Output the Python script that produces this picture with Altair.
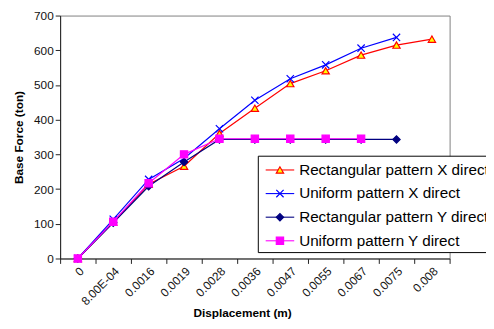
import altair as alt
import pandas as pd

cats = ["0", "8.00E-04", "0.0016", "0.0019", "0.0028", "0.0036", "0.0047",
        "0.0055", "0.0067", "0.0075", "0.008"]
series_names = ["Rectangular pattern X direct", "Uniform pattern X direct",
                "Rectangular pattern Y direct", "Uniform pattern Y direct"]
rect_x = [0, 105, 214, 266, 360, 433, 504, 541, 586, 615, 632]
unif_x = [0, 113, 228, 288, 374, 456, 518, 558, 606, 637]
rect_y = [0, 103, 208, 278, 343, 343, 343, 343, 343, 343]
unif_y = [0, 106, 217, 300, 345, 345, 345, 345, 345]

line_colors = ["#FF0000", "#0000FF", "#000080", "#FF00FF"]
fill_colors = ["#FFFF00", "transparent", "#000080", "#FF00FF"]
shapes = ["triangle-up", "M-1,-1L1,1M-1,1L1,-1", "diamond", "square"]

rows = []
for name, vals in zip(series_names, [rect_x, unif_x, rect_y, unif_y]):
    for c, v in zip(cats, vals):
        rows.append({"disp": c, "force": v, "series": name})
df = pd.DataFrame(rows)

leg = pd.DataFrame({"series": series_names, "i": list(range(4))})

stroke_scale = alt.Scale(domain=series_names, range=line_colors)
fill_scale = alt.Scale(domain=series_names, range=fill_colors)
shape_scale = alt.Scale(domain=series_names, range=shapes)

x_enc = alt.X("disp:N", sort=cats,
              scale=alt.Scale(type="band", domain=cats, paddingInner=0, paddingOuter=0),
              axis=alt.Axis(title="Displacement (m)", tickBand="extent", labelAngle=-45,
                            labelAlign="right", labelBaseline="top", titleX=185,
                            titleY=59, titleBaseline="alphabetic"))
y_enc = alt.Y("force:Q", scale=alt.Scale(domain=[0, 700], nice=False),
              axis=alt.Axis(title="Base Force (ton)", values=list(range(0, 701, 100)),
                            titlePadding=8))

base = alt.Chart(df)
lines = base.mark_line(strokeWidth=1.2).encode(
    x=x_enc, y=y_enc,
    color=alt.Color("series:N", scale=stroke_scale, legend=None),
    detail="series:N",
)
points = base.mark_point(size=55, strokeWidth=1.2, opacity=1).encode(
    x=x_enc, y=y_enc,
    stroke=alt.Stroke("series:N", scale=stroke_scale, legend=None),
    fill=alt.Fill("series:N", scale=fill_scale, legend=None),
    shape=alt.Shape("series:N", scale=shape_scale, legend=None),
)

lb = alt.Chart(leg).transform_calculate(ly="157 + 24 * datum.i")
box = alt.Chart(leg).transform_filter("datum.i == 0").mark_rect(
    fill="white", stroke="black", strokeWidth=1).encode(
    x=alt.value(201.5), x2=alt.value(560), y=alt.value(143), y2=alt.value(241))
leg_rule = lb.mark_rule(strokeWidth=1.1).encode(
    x=alt.value(209), x2=alt.value(238), y=alt.Y("ly:Q", scale=None),
    color=alt.Color("series:N", scale=stroke_scale, legend=None))
leg_pt = lb.mark_point(size=55, strokeWidth=1.2, opacity=1).encode(
    x=alt.value(223.5), y=alt.Y("ly:Q", scale=None),
    stroke=alt.Stroke("series:N", scale=stroke_scale, legend=None),
    fill=alt.Fill("series:N", scale=fill_scale, legend=None),
    shape=alt.Shape("series:N", scale=shape_scale, legend=None))
leg_txt = lb.mark_text(align="left", baseline="middle", fontSize=15.5,
                       font="Liberation Sans", color="#000").encode(
    x=alt.value(243), y=alt.Y("ly:Q", scale=None), text="series:N")

chart = alt.layer(lines, points, box, leg_rule, leg_pt, leg_txt).properties(
    width=396, height=247,
    autosize=alt.AutoSizeParams(type="none"),
    padding={"left": 53, "top": 5, "right": 37, "bottom": 69},
    background="white",
).configure_view(stroke="#808080", strokeWidth=1).configure_axis(
    grid=False, labelFont="Liberation Sans", labelFontSize=12, labelColor="#111",
    titleFont="Liberation Sans", titleFontSize=12, titleFontWeight="bold",
    titleColor="#000", domainColor="#222", tickColor="#222", tickSize=5,
    labelPadding=2,
)

chart.save("out.html", embed_options={"renderer": "svg", "actions": False})
